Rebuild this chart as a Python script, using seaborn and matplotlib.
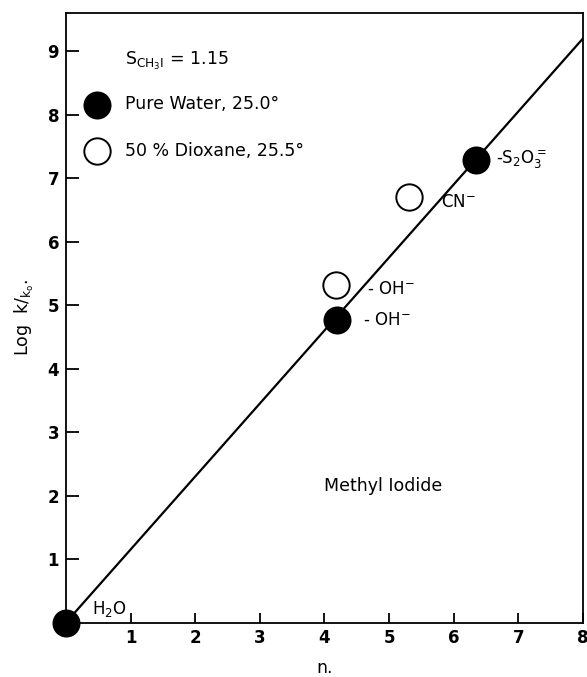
import numpy as np
import pandas as pd
import seaborn as sns
import matplotlib.pyplot as plt
from matplotlib.transforms import ScaledTranslation

# data
water_n = [0.0, 4.2, 6.35]
water_logk = [0.0, 4.76, 7.28]
water_lbl = [r'$\mathregular{H_2O}$', r'- OH$^{-}$', r'-$\mathregular{S_2O_3^{=}}$']

diox_n = [4.18, 5.3]
diox_logk = [5.31, 6.70]
diox_lbl = [r'- OH$^{-}$', r'CN$^{-}$']

slope = 1.15
line_n = [0, 8]

sns.set_style('ticks')
plt.rcParams['font.family'] = ['DejaVu Sans']
plt.rcParams.update({'text.color': 'black', 'axes.labelcolor': 'black',
                     'xtick.color': 'black', 'ytick.color': 'black',
                     'axes.edgecolor': 'black'})

fig = plt.figure(figsize=(5.87, 6.77), dpi=100)
ax = fig.add_axes([0.1124, 0.0805, 0.8808, 0.9003])

line_df = pd.DataFrame({'n': line_n, 'logk': [slope * v for v in line_n]})
sns.lineplot(data=line_df, x='n', y='logk', color='black', linewidth=1.6, ax=ax, zorder=2)

w = pd.DataFrame({'n': water_n, 'logk': water_logk})
d = pd.DataFrame({'n': diox_n, 'logk': diox_logk})
sns.scatterplot(data=w, x='n', y='logk', s=360, color='black', edgecolor='black',
                linewidth=1.2, ax=ax, zorder=4, clip_on=False, label='Pure Water, 25.0°')
sns.scatterplot(data=d, x='n', y='logk', s=360, facecolor='white', edgecolor='black',
                linewidth=1.4, ax=ax, zorder=4, clip_on=False, label='50 % Dioxane, 25.5°')

# point labels
offs = [(0.4, 0.22), (0.4, 0.0), (0.3, 0.0)]
for xv, yv, t, o in zip(water_n, water_logk, water_lbl, offs):
    ax.text(xv + o[0], yv + o[1], t, fontsize=12, va='center', ha='left')
ax.text(diox_n[0] + 0.47, diox_logk[0] - 0.05, diox_lbl[0], fontsize=12, va='center', ha='left')
ax.text(diox_n[1] + 0.5, diox_logk[1] - 0.08, diox_lbl[1], fontsize=12, va='center', ha='left')

ax.text(0.91, 8.85, r'$\mathregular{S_{CH_3I}}$ = 1.15', fontsize=12.5, va='center', ha='left')
ax.text(4.9, 2.15, 'Methyl Iodide', fontsize=12.5, va='center', ha='center')

leg = ax.legend(loc='upper left', bbox_to_anchor=(0.038, 0.865), frameon=False,
                fontsize=12.5, handlelength=1.3, handletextpad=0.95, labelspacing=1.65,
                borderpad=0, borderaxespad=0)

ax.set_xlim(0, 8)
ax.set_ylim(0, 9.6)
ax.set_xticks(range(1, 9))
ax.set_yticks(range(1, 10))
ax.tick_params(axis='both', direction='in', width=1.3, labelsize=12, pad=5)
ax.tick_params(axis='y', length=9)
ax.tick_params(axis='x', length=7)
for lab in ax.get_xticklabels() + ax.get_yticklabels():
    lab.set_fontweight('bold')
last = ax.get_xticklabels()[-1]
last.set_ha('right')
last.set_transform(last.get_transform() + ScaledTranslation(5 / 100, 0, fig.dpi_scale_trans))
for sp in ax.spines.values():
    sp.set_linewidth(1.3)
    sp.set_visible(True)

ax.set_xlabel('n.', fontsize=12.5, labelpad=8)
ax.set_ylabel(r'Log  $\mathregular{k/_{k_o}}$.', fontsize=12.5, labelpad=8)

fig.savefig('out.png', dpi=100)
